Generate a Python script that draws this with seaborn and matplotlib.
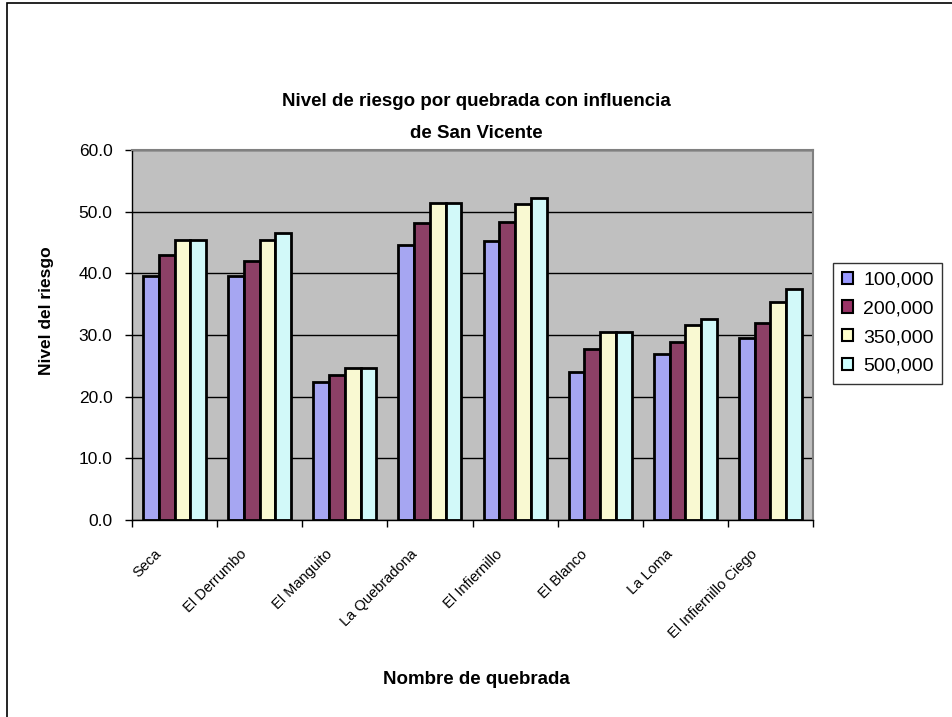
import pandas as pd
import numpy as np
import matplotlib.pyplot as plt
import matplotlib.patches as mpatches
import matplotlib.transforms as mtransforms
import seaborn as sns

# DATA ------------
quebradas = ['Seca', 'El Derrumbo', 'El Manguito', 'La Quebradona',
             'El Infiernillo', 'El Blanco', 'La Loma', 'El Infiernillo Ciego']
series = ['100,000', '200,000', '350,000', '500,000']
v_100 = [39.6, 39.6, 22.4, 44.6, 45.2, 24.0, 27.0, 29.5]
v_200 = [43.0, 42.0, 23.5, 48.1, 48.3, 27.8, 28.8, 32.0]
v_350 = [45.4, 45.4, 24.7, 51.4, 51.3, 30.5, 31.6, 35.4]
v_500 = [45.4, 46.5, 24.7, 51.4, 52.2, 30.5, 32.6, 37.4]
y_ticks = [0, 10, 20, 30, 40, 50, 60]

df = pd.DataFrame({'quebrada': quebradas * 4,
                   'serie': np.repeat(series, len(quebradas)),
                   'valor': v_100 + v_200 + v_350 + v_500})

COLORS = ['#9999FF', '#993366', '#FFFFCC', '#CCFFFF']

# PLOT ------------
sns.set_style('white')
plt.rcParams['font.family'] = ['Liberation Sans', 'DejaVu Sans']
for key in ['text.color', 'axes.labelcolor', 'xtick.color', 'ytick.color']:
    plt.rcParams[key] = 'black'

fig = plt.figure(figsize=(9.52, 7.17), dpi=100)
ax = fig.add_axes([132 / 952, 1 - 520 / 717, (813 - 132) / 952, (520 - 150) / 717])
ax.set_facecolor('#C0C0C0')

ax.yaxis.grid(True, color='black', linewidth=1, zorder=0)
ax.set_axisbelow(True)
sns.barplot(data=df, x='quebrada', y='valor', hue='serie', palette=COLORS,
            width=0.74, edgecolor='black', linewidth=2, ax=ax, zorder=2)

ax.set_ylim(0, 60)
ax.set_xlim(-0.5, len(quebradas) - 0.5)
ax.set_yticks(y_ticks)
ax.set_yticklabels([f'{t:.1f}' for t in y_ticks], fontsize=12.5)
ax.tick_params(axis='y', direction='out', length=5, width=1, color='black', pad=9, left=True)

ax.set_xticks(range(len(quebradas)))
ax.set_xticklabels(quebradas, rotation=45, ha='right', va='center',
                   rotation_mode='anchor', fontsize=10.5)
ax.tick_params(axis='x', which='major', length=0, pad=23)
shift = mtransforms.ScaledTranslation(-15 / 100, 0, fig.dpi_scale_trans)
for lbl in ax.get_xticklabels():
    lbl.set_transform(lbl.get_transform() + shift)
ax.set_xticks(np.arange(-0.5, len(quebradas), 1), minor=True)
ax.tick_params(axis='x', which='minor', direction='out', length=5, width=1,
               color='black', bottom=True)

for side in ['left', 'bottom']:
    ax.spines[side].set_color('black')
    ax.spines[side].set_linewidth(1)
for side in ['top', 'right']:
    ax.spines[side].set_color('#808080')
    ax.spines[side].set_linewidth(1.5)

ax.set_xlabel('')
ax.set_ylabel('Nivel del riesgo', fontsize=12.5, fontweight='bold')
ax.yaxis.set_label_coords(-0.115, (520 - 311) / 370)
fig.text(0.5, 1 - 680 / 717, 'Nombre de quebrada', ha='center', va='center',
         fontsize=13.5, fontweight='bold')

fig.text(0.5, 1 - 101 / 717, 'Nivel de riesgo por quebrada con influencia',
         ha='center', va='center', fontsize=13.5, fontweight='bold')
fig.text(0.5, 1 - 133 / 717, 'de San Vicente',
         ha='center', va='center', fontsize=13.5, fontweight='bold')

# Legend
handles = [mpatches.Patch(facecolor=c, edgecolor='black', linewidth=1.5, label=s)
           for c, s in zip(COLORS, series)]
ax.get_legend().remove()
leg = fig.legend(handles=handles, loc='upper left',
                 bbox_to_anchor=(833 / 952, 1 - 263 / 717),
                 frameon=True, fancybox=False, fontsize=14,
                 handlelength=0.6, handleheight=0.6, handletextpad=0.5,
                 labelspacing=0.6, borderpad=0.45, borderaxespad=0)
leg.get_frame().set_edgecolor('black')
leg.get_frame().set_linewidth(1)

# outer chart border
fig.patches.append(mpatches.Rectangle((7 / 952, -0.05), 1.1, 1 - 3 / 717 + 0.05,
                                      transform=fig.transFigure, fill=False,
                                      edgecolor='black', linewidth=1.2))

fig.savefig('out.png', dpi=100)
